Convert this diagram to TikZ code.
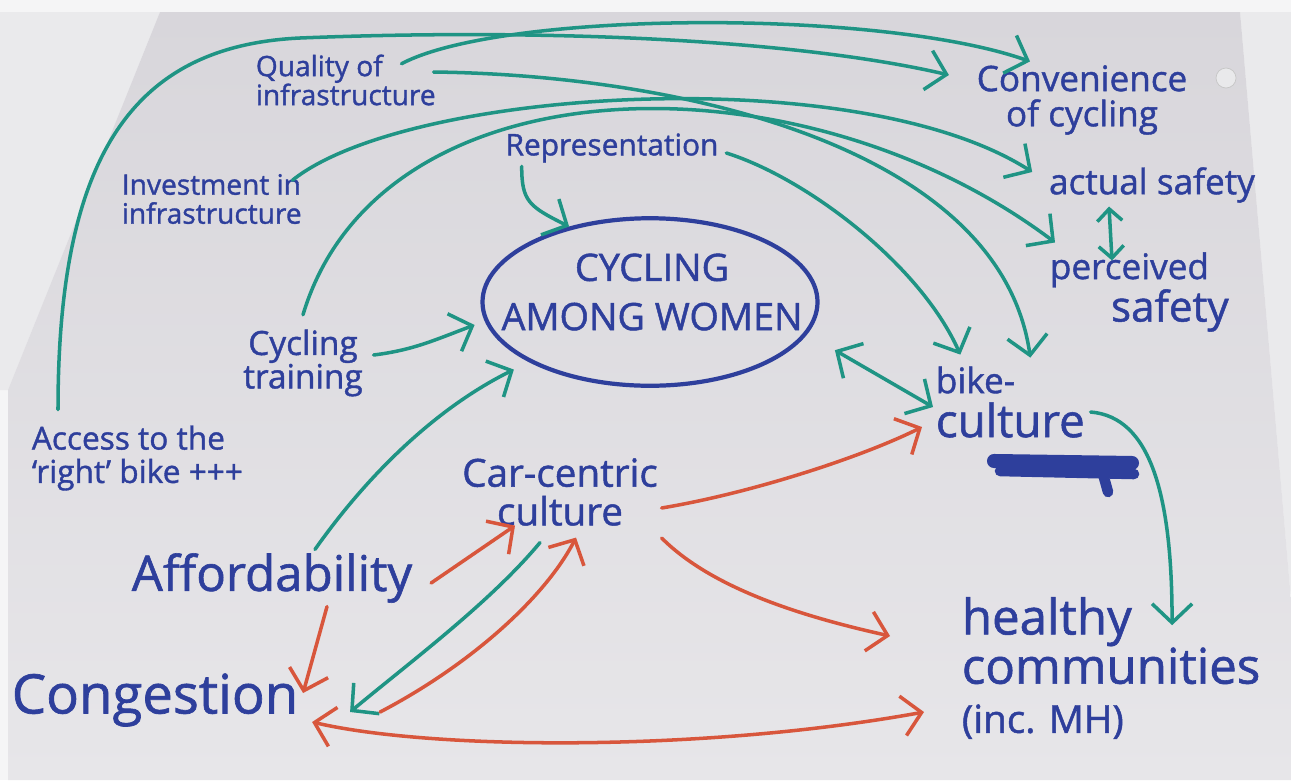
\documentclass[tikz,border=0pt]{standalone}
\usepackage{fontspec}
\setmainfont{Open Sans}[FakeBold=1.2]
\usepackage{tikz}
\usetikzlibrary{arrows.meta,shapes.geometric,calc}

\definecolor{ink}{HTML}{2E3F9C}
\definecolor{tealink}{HTML}{1F9484}
\definecolor{redink}{HTML}{D8563C}
\definecolor{backdrop}{HTML}{F5F5F6}
\definecolor{sidewall}{HTML}{EAEAEC}
\definecolor{papertop}{HTML}{D8D6DB}
\definecolor{paperbot}{HTML}{E7E6E9}

\newcommand{\inkfont}[2]{\fontsize{#1}{#2}\selectfont}

\begin{document}
\begin{tikzpicture}[
		x=0.2mm, y=-0.2mm,
		>={Straight Barb[length=3.8mm,width=8mm]},
		idea/.style={text=ink, inner sep=2pt, align=center},
		tealway/.style={draw=tealink, line width=2pt, line cap=round, ->},
		tealboth/.style={draw=tealink, line width=2pt, line cap=round, <->},
		redway/.style={draw=redink, line width=2pt, line cap=round, ->},
		redboth/.style={draw=redink, line width=2pt, line cap=round, <->}
		]
		\useasboundingbox (0,0) rectangle (1291,780);
		
		% Sheet of paper on the wall
		\fill[backdrop] (0,0) rectangle (1291,780);
		\fill[sidewall] (0,12) -- (160,12) -- (8,390) -- (0,390) -- cycle;
		\fill[sidewall] (1240,12) -- (1291,12) -- (1291,600) -- cycle;
		\shade[top color=papertop, bottom color=paperbot]
		(160,12) -- (1240,12) -- (1291,600) -- (1291,780) -- (8,780) -- (8,390) -- cycle;
		\draw[gray!45, fill=backdrop!60!papertop] (1226,78) circle (10);
		
		% Factors
		\node[idea, anchor=west, align=left, font=\inkfont{16}{16.5}] (qual) at (252,80) {Quality of\\infrastructure};
		\node[idea, font=\inkfont{20}{20}] (conv) at (1082,100) {Convenience\\of cycling};
		\node[idea, font=\inkfont{17}{17}] (repr) at (612,148) {Representation};
		\node[idea, anchor=west, align=left, font=\inkfont{16}{16.5}] (inv) at (118,199) {Investment in\\infrastructure};
		\node[idea, font=\inkfont{20}{20}] (act) at (1152,185) {actual safety};
		\node[idea, anchor=west, align=left, font=\inkfont{24}{21}] (perc) at (1046,292) {{\inkfont{20}{20}perceived}\\\hspace*{1.45em}safety};
		\node[ellipse, draw=ink, line width=2.4pt, minimum width=67mm, minimum height=33.5mm] (cyc) at (650,302) {};
		\node[idea, font=\inkfont{21.5}{28}] (cyctext) at (652,292) {CYCLING\\AMONG WOMEN};
		\node[idea, font=\inkfont{19}{19}] (train) at (303,363) {Cycling\\training};
		\node[idea, anchor=west, align=left, font=\inkfont{26}{25}] (bike) at (932,402) {{\inkfont{20}{20}bike-}\\culture};
		\node[idea, anchor=west, align=left, font=\inkfont{18}{19}] (access) at (28,458) {Access to the\\‘right’ bike +++};
		\node[idea, font=\inkfont{22}{22}] (car) at (560,492) {Car-centric\\culture};
		\node[idea, font=\inkfont{28}{28}] (afford) at (272,578) {Affordability};
		\node[idea, font=\inkfont{31}{31}] (cong) at (155,700) {Congestion};
		\node[idea, anchor=west, align=left, font=\inkfont{28}{28}] (health) at (958,668) {healthy\\communities\\{\inkfont{22}{24}(inc. MH)}};
		
		% crossed-out word under bike-culture
		\draw[ink, line width=8pt, line cap=round] (994,461) -- (1132,463);
		\draw[ink, line width=6pt, line cap=round] (1000,471) -- (1134,474);
		\draw[ink, line width=6pt, line cap=round] (1103,474) -- (1108,492);
		
		% teal links
		\draw[tealway] ($(access.north west)+(30,-12)$) .. controls +(0,-250) and +(-170,8) .. (300,38)
		.. controls +(250,-10) and +(-150,-35) .. ($(conv.west)+(-24,-25)$);
		\draw[tealway] ($(qual.north east)+(-38,13)$) .. controls +(100,-53) and +(-150,-53) .. ($(conv.north)+(-52,0)$);
		\draw[tealway] ($(qual.east)+(-6,-8)$) .. controls +(248,3) and +(-30,-210) .. ($(bike.north)+(20,-5)$);
		\draw[tealway] ($(inv.north east)+(-13,10)$) .. controls +(115,-92) and +(-175,-112) .. ($(act.west)+(-13,-13)$);
		\draw[tealway] ($(train.north)+(0,-11)$) .. controls +(77,-257) and +(-255,-192) .. ($(perc.north west)+(9,-6)$);
		\draw[tealway] ($(repr.south west)+(20,0)$) .. controls +(0,35) and +(-40,-20) .. (cyc.137);
		\draw[tealway] ($(repr.east)+(4,5)$) .. controls +(80,25) and +(-40,-90) .. ($(bike.north)+(-50,-8)$);
		\draw[tealboth, {Straight Barb[length=2.4mm,width=5mm]}-{Straight Barb[length=2.4mm,width=5mm]}]
		($(act.south)+(-43,0)$) -- ($(perc.north west)+(66,12)$);
		\draw[tealway] ($(train.east)+(7,-8)$) .. controls +(40,-5) and +(-40,15) .. ($(cyc.188)+(-12,0)$);
		\draw[tealway] ($(afford.north)+(43,0)$) .. controls +(55,-78) and +(-75,37) .. ($(cyc.206)+(-14,8)$);
		\draw[tealboth] ($(cyc.-15)+(35,8)$) -- ($(bike.west)+(1,5)$);
		\draw[tealway] ($(bike.east)+(2,10)$) .. controls +(60,5) and +(0,-130) .. ($(health.north)+(61,32)$);
		\draw[tealway] ($(car.south)+(-20,13)$) .. controls +(-50,60) and +(60,-50) .. ($(cong.east)+(48,12)$);
		
		% red links
		\draw[redway] ($(afford.east)+(15,5)$) -- ($(car.south)+(-45,-4)$);
		\draw[redway] ($(afford.south)+(55,0)$) -- ($(cong.east)+(1,-7)$);
		\draw[redway] ($(cong.east)+(78,12)$) .. controls +(90,-47) and +(-31,60) .. ($(car.south)+(16,8)$);
		\draw[redboth] ($(cong.east)+(10,22)$) .. controls +(120,28) and +(-220,40) .. ($(health.west)+(-34,44)$);
		\draw[redway] ($(car.east)+(0,16)$) .. controls +(90,-15) and +(-60,30) .. ($(bike.west)+(-10,25)$);
		\draw[redway] ($(car.east)+(0,46)$) .. controls +(50,50) and +(-90,-20) .. ($(health.west)+(-68,-32)$);
\end{tikzpicture}
\end{document}
